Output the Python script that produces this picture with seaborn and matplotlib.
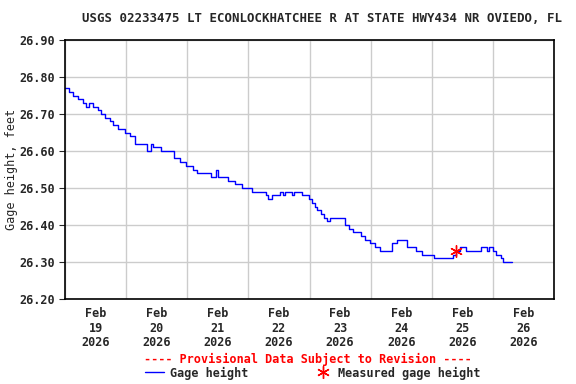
import pandas as pd
import numpy as np
import seaborn as sns
import matplotlib.pyplot as plt
import matplotlib.dates as mdates
from matplotlib.lines import Line2D

# gage height breakpoints (hours after Feb 19 00:00, feet), step data
hours = [0, 1.6, 3.1, 5.1, 7.1, 8.3, 9.4, 11, 13, 14.1, 15.7, 17.7, 18.9, 20.8,
         23.6, 25.5, 27.5, 32.2, 33.8, 34.6, 37.7, 42.8, 45.2, 47.6, 50.3, 51.9,
         57.4, 59.4, 60.1, 64, 66.8, 69.6, 73.5, 79, 79.8, 81.4, 84.5, 85.7, 86.5,
         89.2, 90, 93.1, 95.9, 97.1, 98.3, 99, 100.6, 101.8, 103, 104.2, 110,
         111.6, 113.2, 116.3, 117.9, 119.9, 121.8, 123.8, 128.5, 130.5, 134.4,
         137.9, 140.3, 145, 152.5, 153.7, 154.9, 157.6, 163.5, 165.5, 166.6,
         168.2, 169.4, 171.3, 172.1, 175.7]
gage = [26.77, 26.76, 26.75, 26.74, 26.73, 26.72, 26.73, 26.72, 26.71, 26.70,
        26.69, 26.68, 26.67, 26.66, 26.65, 26.64, 26.62, 26.60, 26.62, 26.61,
        26.60, 26.58, 26.57, 26.56, 26.55, 26.54, 26.53, 26.55, 26.53, 26.52,
        26.51, 26.50, 26.49, 26.48, 26.47, 26.48, 26.49, 26.48, 26.49, 26.48,
        26.49, 26.48, 26.47, 26.46, 26.45, 26.44, 26.43, 26.42, 26.41, 26.42,
        26.40, 26.39, 26.38, 26.37, 26.36, 26.35, 26.34, 26.33, 26.35, 26.36,
        26.34, 26.33, 26.32, 26.31, 26.32, 26.33, 26.34, 26.33, 26.34, 26.33,
        26.34, 26.33, 26.32, 26.31, 26.30, 26.30]

# field measurement
meas_hours = [153.7]
meas_gage = [26.33]

base = pd.Timestamp("2026-02-19")
df = pd.DataFrame({"time": base + pd.to_timedelta(hours, unit="h"), "gage": gage})
meas = pd.DataFrame({"time": base + pd.to_timedelta(meas_hours, unit="h"), "gage": meas_gage})

sns.set_style("whitegrid")
plt.rcParams["font.family"] = ["DejaVu Sans Mono"]
plt.rcParams["font.weight"] = "bold"
fs = 8.5

fig = plt.figure(figsize=(5.76, 3.84), dpi=100)
ax = fig.add_axes([65 / 576, 1 - 299 / 384, (554 - 65) / 576, (299 - 40) / 384])

sns.lineplot(data=df, x="time", y="gage", ax=ax, color="#0000ff", lw=1.0,
             drawstyle="steps-post")
sns.scatterplot(data=meas, x="time", y="gage", ax=ax, color="red", marker=(6, 2, 0),
                s=70, linewidth=1.0, zorder=5)

ax.set_xlim(pd.Timestamp("2026-02-19"), pd.Timestamp("2026-02-27"))
ax.set_ylim(26.20, 26.90)
ax.set_yticks(np.arange(26.2, 26.91, 0.1))
ax.yaxis.set_major_formatter(plt.FormatStrFormatter("%.2f"))
ax.xaxis.set_major_locator(mdates.DayLocator())
ax.xaxis.set_major_formatter(plt.NullFormatter())
ax.xaxis.set_minor_locator(mdates.HourLocator(byhour=12))
ax.xaxis.set_minor_formatter(mdates.DateFormatter("%b\n%d\n%Y"))
ax.tick_params(axis="x", which="both", length=0, labelsize=fs, pad=6)
ax.tick_params(axis="y", length=4, width=0.8, direction="out", labelsize=fs, pad=3, left=True)
ax.grid(True, color="#cccccc", lw=1)
ax.grid(False, which="minor")
for s in ax.spines.values():
    s.set_color("black")
    s.set_linewidth(1.2)
ax.set_xlabel("")
ax.set_ylabel("Gage height, feet", fontsize=fs, labelpad=1)
for lab in ax.get_xticklabels(minor=True):
    lab.set_linespacing(1.15)

fig.text(322 / 576, 1 - 18 / 384, "USGS 02233475 LT ECONLOCKHATCHEE R AT STATE HWY434 NR OVIEDO, FL",
         ha="center", va="center", fontsize=8.9, fontweight="bold")
fig.text(308 / 576, 1 - 359 / 384, "---- Provisional Data Subject to Revision ----",
         ha="center", va="center", fontsize=fs, fontweight="bold", color="red")

handles = [Line2D([], [], color="#0000ff", lw=1),
           Line2D([], [], color="red", marker=(6, 2, 0), ls="none", ms=9, mew=1)]
fig.legend(handles, ["Gage height", "Measured gage height"], loc="center",
           bbox_to_anchor=(313 / 576, 1 - 373 / 384), ncol=2, frameon=False,
           fontsize=fs, handlelength=1.6, handletextpad=0.5, columnspacing=5.5,
           borderpad=0)

fig.savefig("out.png", dpi=100)
